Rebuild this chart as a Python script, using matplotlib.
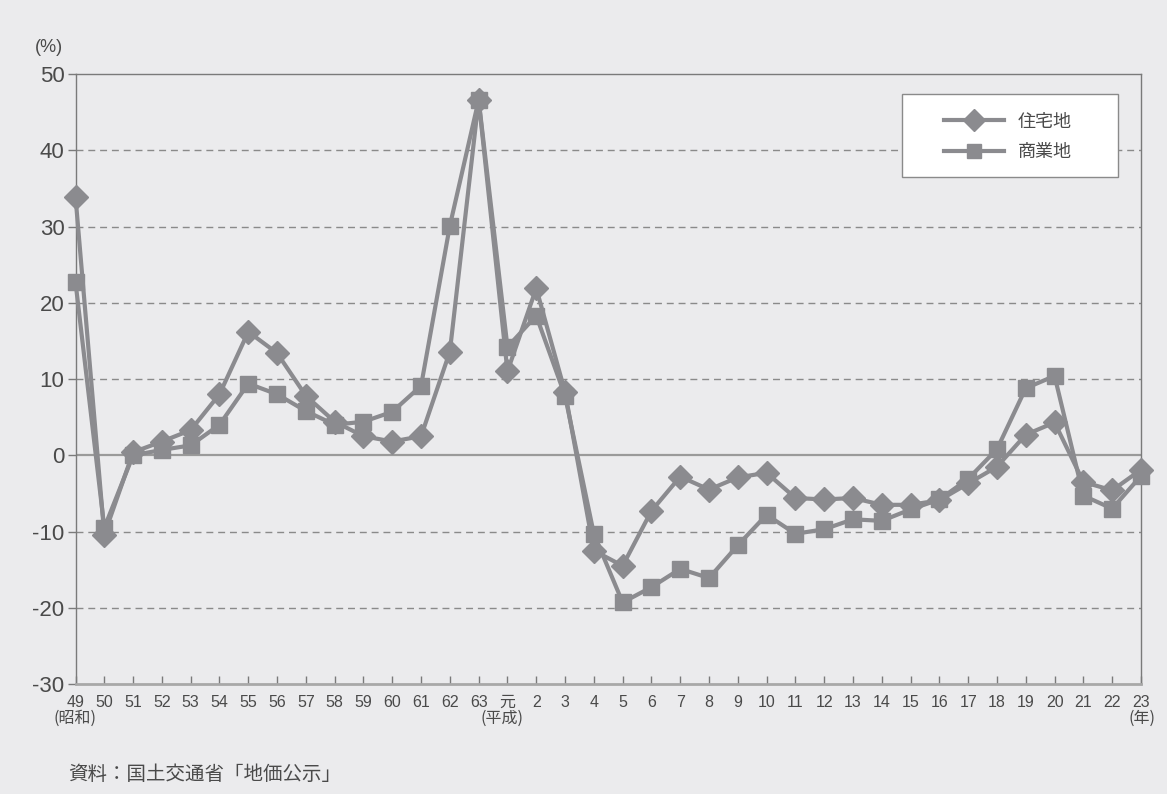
import matplotlib.pyplot as plt
from matplotlib.patches import Rectangle
import numpy as np

plt.rcParams['font.family'] = ['Liberation Sans', 'Noto Sans CJK JP', 'DejaVu Sans']
plt.rcParams['axes.unicode_minus'] = False

# ── Data: 地価変動率 (全国, %) ─────────────────────────────────
years = ['49', '50', '51', '52', '53', '54', '55', '56', '57', '58', '59', '60',
         '61', '62', '63', '元', '2', '3', '4', '5', '6', '7', '8', '9', '10',
         '11', '12', '13', '14', '15', '16', '17', '18', '19', '20', '21', '22', '23']

residential = [33.9, -10.4, 0.4, 1.8, 3.3, 8.0, 16.2, 13.4, 7.8, 4.4, 2.5, 1.8,
               2.5, 13.6, 46.6, 11.0, 21.9, 8.3, -12.5, -14.5, -7.3, -2.8, -4.5,
               -2.9, -2.3, -5.6, -5.8, -5.6, -6.5, -6.5, -5.9, -3.7, -1.5, 2.7,
               4.3, -3.5, -4.6, -1.9]

commercial = [22.7, -9.5, 0.0, 0.7, 1.3, 4.0, 9.4, 8.0, 5.8, 4.0, 4.4, 5.7,
              9.1, 30.1, 46.6, 14.2, 18.3, 7.8, -10.3, -19.3, -17.3, -14.9, -16.1,
              -11.8, -7.8, -10.3, -9.7, -8.4, -8.6, -7.1, -5.8, -3.1, 0.8, 8.8,
              10.4, -5.3, -7.0, -2.7]

labels = ['住宅地', '商業地']

# ── Style ─────────────────────────────────────────────────────
BG    = '#EBEBED'
LINE  = '#8B8B8F'
TEXT  = '#4A4A4A'
FRAME = '#7A7A7A'
CJK   = ['Noto Sans CJK JP', 'DejaVu Sans']

W, H = 1167, 794
fig = plt.figure(figsize=(W / 100, H / 100), dpi=100, facecolor=BG)
ax = fig.add_axes([0.0647, 0.1385, 0.9130, 0.7683], facecolor=BG)

x = np.arange(len(years))

ax.plot(x, residential, color=LINE, lw=3.0, marker='D', ms=12,
        mec=LINE, mfc=LINE, clip_on=False, zorder=4, label=labels[0])
ax.plot(x, commercial, color=LINE, lw=3.0, marker='s', ms=11,
        mec=LINE, mfc=LINE, clip_on=False, zorder=4, label=labels[1])

# axes & grid
ax.set_xlim(0, len(years) - 1)
ax.set_ylim(-30, 50)
ax.set_yticks(np.arange(-30, 51, 10))
for yv in [-20, -10, 10, 20, 30, 40]:
    ax.axhline(yv, color='#8A8A8A', lw=1.0, ls=(0, (5, 3.5)), zorder=1)
ax.axhline(0, color='#9A9A9A', lw=1.6, zorder=1)

for side in ['top', 'right', 'left']:
    ax.spines[side].set_color(FRAME)
    ax.spines[side].set_linewidth(1.0)
ax.spines['bottom'].set_color('#A8A8A8')
ax.spines['bottom'].set_linewidth(2.0)

ax.set_xticks(x)
ax.set_xticklabels(years)
ax.tick_params(axis='x', direction='in', length=6, width=1, color=FRAME,
               labelsize=11.5, labelcolor=TEXT, pad=8)
ax.tick_params(axis='y', direction='out', length=6, width=1, color=FRAME,
               labelsize=16, labelcolor=TEXT, pad=2)

# unit / era annotations
fig.text(35 / W, 1 - 47 / H, '(%)', fontsize=13, color=TEXT,
         ha='left', va='center')
fig.text(75 / W, 1 - 718 / H, '(昭和)', fontsize=11.5, color=TEXT,
         ha='center', va='center', family=CJK)
fig.text(502 / W, 1 - 718 / H, '(平成)', fontsize=11.5, color=TEXT,
         ha='center', va='center', family=CJK)
fig.text(1142 / W, 1 - 718 / H, '(年)', fontsize=11.5, color=TEXT,
         ha='center', va='center', family=CJK)
fig.text(68 / W, 1 - 775 / H, '資料：国土交通省「地価公示」', fontsize=14,
         color=TEXT, ha='left', va='center', family=CJK)

# legend: white box with the frameless legend on top
ax.add_patch(Rectangle((902 / W, 1 - 177 / H), 216 / W, 83 / H,
                       transform=fig.transFigure, facecolor='white',
                       edgecolor='#8A8A8A', lw=1.0, zorder=5, clip_on=False))
leg = ax.legend(loc='center left', bbox_to_anchor=(944 / W, 1 - 137 / H),
                bbox_transform=fig.transFigure, frameon=False,
                fontsize=13, handlelength=3.3, handletextpad=0.8,
                borderpad=0, labelspacing=0.7, borderaxespad=0,
                markerscale=0.95)
leg.set_zorder(6)
for t in leg.get_texts():
    t.set_color(TEXT)
    t.set_family(CJK)

fig.savefig('out.png', dpi=100, facecolor=BG)
